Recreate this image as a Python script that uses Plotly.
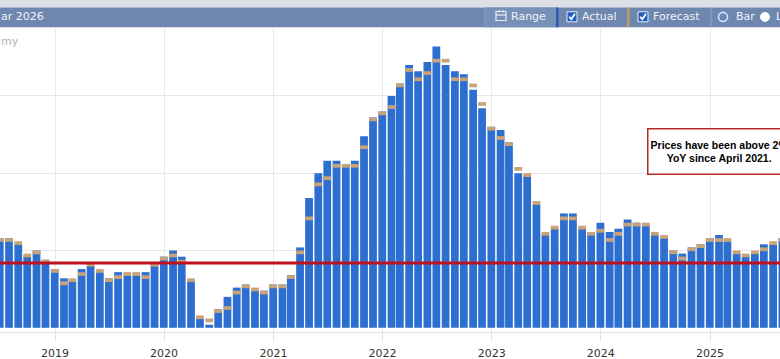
import pandas as pd
import plotly.graph_objects as go

# ---------------- data ----------------
start_month = "2018-06"          # first month shown (partially visible)
actual = [
    2.9, 2.9, 2.7, 2.3, 2.5, 2.2, 1.9,                              # 2018 Jun-Dec
    1.6, 1.5, 1.9, 2.0, 1.8, 1.6, 1.8, 1.7, 1.7, 1.8, 2.1, 2.3,     # 2019
    2.5, 2.3, 1.5, 0.3, 0.1, 0.6, 1.0, 1.3, 1.4, 1.2, 1.2, 1.4,     # 2020
    1.4, 1.7, 2.6, 4.2, 5.0, 5.4, 5.4, 5.3, 5.4, 6.2, 6.8, 7.0,     # 2021
    7.5, 7.9, 8.5, 8.3, 8.6, 9.1, 8.5, 8.3, 8.2, 7.7, 7.1, 6.5,     # 2022
    6.4, 6.0, 5.0, 4.9, 4.0, 3.0, 3.2, 3.7, 3.7, 3.2, 3.1, 3.4,     # 2023
    3.1, 3.2, 3.5, 3.4, 3.3, 3.0, 2.9, 2.5, 2.4, 2.6, 2.7, 2.9,     # 2024
    3.0, 2.8, 2.4, 2.3, 2.4, 2.7, 2.7, 2.9,                         # 2025 Jan-Aug
]
forecast = [
    2.9, 2.9, 2.8, 2.4, 2.5, 2.2, 1.9,
    1.5, 1.6, 1.8, 2.1, 1.9, 1.6, 1.7, 1.8, 1.8, 1.7, 2.1, 2.3,
    2.4, 2.2, 1.6, 0.4, 0.3, 0.6, 0.7, 1.2, 1.4, 1.3, 1.2, 1.4,
    1.4, 1.7, 2.5, 3.6, 4.7, 4.9, 5.3, 5.3, 5.3, 5.9, 6.8, 7.0,
    7.2, 7.9, 8.4, 8.1, 8.3, 8.7, 8.7, 8.1, 8.1, 7.9, 7.3, 6.5,
    6.2, 6.0, 5.2, 5.0, 4.1, 3.1, 3.3, 3.6, 3.6, 3.3, 3.1, 3.2,
    2.9, 3.1, 3.4, 3.4, 3.4, 3.1, 3.0, 2.5, 2.3, 2.6, 2.7, 2.9,
    2.9, 2.9, 2.5, 2.4, 2.5, 2.6, 2.8, 2.9,
]
year_ticks = ["2019", "2020", "2021", "2022", "2023", "2024", "2025"]
threshold = 2.1
note_text = "Prices have been above 2%<br>YoY since April 2021."

# ---------------- derived ----------------
dates = pd.date_range(start=start_month, periods=len(actual), freq="ME")
band = 0.12
day_ms = 86400000
bar_w = 26 * day_ms

W, H = 780, 359
PT, PB = 27, 332          # plot area top / bottom (px)


def X(px):
    return px / W


def Y(py):
    return (PB - py) / (PB - PT)


BLUE = "#2c6fd0"
TAN = "#c9a378"

fig = go.Figure()
fig.add_trace(go.Bar(x=dates, y=actual, width=[bar_w] * len(actual),
                     marker=dict(color=BLUE, line=dict(width=0)), name="Actual"))
fig.add_trace(go.Bar(x=dates, y=[band] * len(forecast),
                     base=[f - band for f in forecast],
                     width=[bar_w] * len(forecast),
                     marker=dict(color=TAN, line=dict(width=0)), name="Forecast"))

shapes = []
annos = []

# red threshold line
shapes.append(dict(type="line", xref="paper", yref="y", x0=0, x1=1,
                   y0=threshold, y1=threshold,
                   line=dict(color="#c0121e", width=3), layer="above"))

# toolbar
shapes.append(dict(type="rect", xref="paper", yref="paper", x0=0, x1=1,
                   y0=Y(7.5), y1=Y(0), fillcolor="#dcdfe6", line=dict(width=0), layer="above"))
shapes.append(dict(type="rect", xref="paper", yref="paper", x0=0, x1=1,
                   y0=Y(27.3), y1=Y(7.5), fillcolor="#6e87ae", line=dict(width=0), layer="above"))
shapes.append(dict(type="rect", xref="paper", yref="paper", x0=X(485), x1=X(556),
                   y0=Y(27.3), y1=Y(7.5), fillcolor="#7690b7", line=dict(width=0), layer="above"))
shapes.append(dict(type="line", xref="paper", yref="paper", x0=X(485), x1=X(485),
                   y0=Y(27.3), y1=Y(7.5), line=dict(color="#8ea3c6", width=1), layer="above"))
# separators
shapes.append(dict(type="rect", xref="paper", yref="paper", x0=X(556), x1=X(558.5),
                   y0=Y(27.3), y1=Y(7.5), fillcolor="#2a5fb0", line=dict(width=0), layer="above"))
shapes.append(dict(type="rect", xref="paper", yref="paper", x0=X(627), x1=X(629.5),
                   y0=Y(27.3), y1=Y(7.5), fillcolor="#c39a6a", line=dict(width=0), layer="above"))
shapes.append(dict(type="line", xref="paper", yref="paper", x0=X(711), x1=X(711),
                   y0=Y(27.3), y1=Y(7.5), line=dict(color="#8ea3c6", width=1), layer="above"))
# calendar icon
shapes.append(dict(type="rect", xref="paper", yref="paper", x0=X(496), x1=X(506),
                   y0=Y(20.5), y1=Y(11.5), fillcolor="rgba(0,0,0,0)",
                   line=dict(color="#e6ecf6", width=1.2), layer="above"))
shapes.append(dict(type="line", xref="paper", yref="paper", x0=X(496), x1=X(506),
                   y0=Y(15), y1=Y(15), line=dict(color="#e6ecf6", width=1.2), layer="above"))
for cx in (499, 503):
    shapes.append(dict(type="line", xref="paper", yref="paper", x0=X(cx), x1=X(cx),
                       y0=Y(12.5), y1=Y(10), line=dict(color="#e6ecf6", width=1.2), layer="above"))
# checkboxes
for x0 in (567, 638):
    shapes.append(dict(type="rect", xref="paper", yref="paper", x0=X(x0), x1=X(x0 + 10),
                       y0=Y(21.8), y1=Y(11.8), fillcolor="#1f5fc0",
                       line=dict(color="#e8eef8", width=1), layer="above"))
    path = "M {} {} L {} {} L {} {}".format(X(x0 + 2.3), Y(16.8), X(x0 + 4.3), Y(19.3),
                                            X(x0 + 8), Y(13.8))
    shapes.append(dict(type="path", xref="paper", yref="paper", path=path,
                       line=dict(color="white", width=1.8), layer="above"))
# radio buttons
shapes.append(dict(type="circle", xref="paper", yref="paper", x0=X(718.5), x1=X(727.5),
                   y0=Y(21.4), y1=Y(12.4), fillcolor="rgba(0,0,0,0)",
                   line=dict(color="#d2e3ff", width=1.6), layer="above"))
shapes.append(dict(type="circle", xref="paper", yref="paper", x0=X(760.5), x1=X(769.5),
                   y0=Y(21.4), y1=Y(12.4), fillcolor="white",
                   line=dict(color="white", width=1), layer="above"))

tb_font = dict(family="DejaVu Sans", size=11, color="#eef2f9")
for txt, px in [("ar 2026", 0), ("Range", 510), ("Actual", 581), ("Forecast", 652),
                ("Bar", 735), ("Line", 775)]:
    annos.append(dict(text=txt, xref="paper", yref="paper", x=X(px), y=Y(17),
                      xanchor="left", yanchor="middle", showarrow=False,
                      font=tb_font, borderpad=0))

# watermark fragment
annos.append(dict(text="my", xref="paper", yref="paper", x=X(0), y=Y(41.5),
                  xanchor="left", yanchor="middle", showarrow=False, borderpad=0,
                  font=dict(family="DejaVu Sans", size=11, color="#b4b4b4")))

# note box
annos.append(dict(text="<b>" + note_text + "</b>", xref="paper", yref="paper",
                  x=X(719.5), y=Y(151.2), xanchor="center", yanchor="middle",
                  showarrow=False, align="center", width=140, height=42,
                  bgcolor="white", bordercolor="#b02a2a", borderwidth=1.5, borderpad=1,
                  font=dict(family="Liberation Sans", size=10.5, color="black")))

tickvals = [pd.Timestamp(y + "-01-01") for y in year_ticks]

fig.update_layout(
    width=W, height=H,
    margin=dict(l=0, r=0, t=PT, b=H - PB),
    paper_bgcolor="white", plot_bgcolor="white",
    barmode="overlay", showlegend=False,
    shapes=shapes, annotations=annos,
    xaxis=dict(type="date", range=["2018-06-30 20:00", "2025-08-23"],
               tickvals=tickvals, ticktext=year_ticks,
               showgrid=True, gridcolor="#e8e8e8", gridwidth=1,
               ticks="outside", ticklen=8, tickcolor="#e2e2e2", tickwidth=1,
               ticklabelstandoff=3,
               tickfont=dict(family="DejaVu Sans", size=11, color="#333333"),
               showline=True, linecolor="#dbe6f4", linewidth=1, zeroline=False,
               fixedrange=True),
    yaxis=dict(range=[-0.136, 9.73], tickvals=[2.5, 5, 7.5], showticklabels=False,
               showgrid=True, gridcolor="#e6e6e6", gridwidth=1, zeroline=False,
               ticks="", fixedrange=True),
)

fig.write_html("out.html", config={"displayModeBar": False},
               post_script="document.body.style.margin='0';document.body.style.overflow='hidden';")
